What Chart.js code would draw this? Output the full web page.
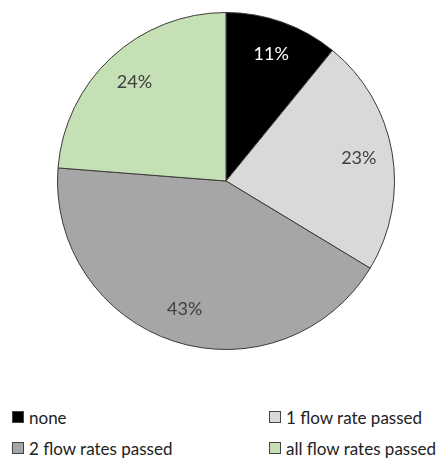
<!DOCTYPE html>
<html lang="en">
<head>
<meta charset="UTF-8">
<title>Flow rates pie</title>
<script src="https://cdn.jsdelivr.net/npm/chart.js"></script>
<style>
  body { margin: 0; background: #fff; width: 446px; height: 458px; position: relative; font-family: Lato, "Open Sans", sans-serif; overflow: hidden; }
  #wrap { position: absolute; left: 57px; top: 12px; width: 338px; height: 338px; }
  #legend { position: absolute; left: 12px; top: 407px; width: 434px; display: grid; grid-template-columns: 257px 177px; row-gap: 11px; font-size: 17px; color: #222; }
  #legend div { display: flex; align-items: center; height: 20px; white-space: nowrap; }
  #legend span.box { width: 10px; height: 10px; border: 1px solid #444; margin-right: 5px; display: inline-block; flex: none; }
</style>
</head>
<body>
<div id="wrap"><canvas id="pie"></canvas></div>
<div id="legend"></div>

<script>
// data
const categories = ['none', '1 flow rate passed', '2 flow rates passed', 'all flow rates passed'];
const shares = [11, 23, 43, 24];
const sliceColors = ['#000000', '#d9d9d9', '#a6a6a6', '#c5e0b4'];
const labelColors = ['#ffffff', '#404040', '#404040', '#404040'];

// percent labels inside each slice
const sliceLabels = {
  id: 'sliceLabels',
  afterDatasetsDraw(chart) {
    const ctx = chart.ctx;
    const meta = chart.getDatasetMeta(0);
    ctx.save();
    ctx.font = '18px Lato, "Open Sans", sans-serif';
    ctx.textAlign = 'center';
    ctx.textBaseline = 'middle';
    meta.data.forEach((arc, i) => {
      const mid = (arc.startAngle + arc.endAngle) / 2;
      const r = arc.outerRadius * 0.8;
      ctx.fillStyle = labelColors[i];
      ctx.fillText(shares[i] + '%', arc.x + Math.cos(mid) * r, arc.y + Math.sin(mid) * r);
    });
    ctx.restore();
  }
};

new Chart(document.getElementById('pie'), {
  type: 'pie',
  data: {
    labels: categories,
    datasets: [{
      data: shares,
      backgroundColor: sliceColors,
      borderColor: '#3a3a3a',
      borderWidth: 1
    }]
  },
  options: {
    responsive: true,
    maintainAspectRatio: false,
    animation: false,
    layout: { padding: 0 },
    plugins: {
      legend: { display: false },
      tooltip: { enabled: false }
    }
  },
  plugins: [sliceLabels]
});

// legend in two columns, same order as the slices
const legendEl = document.getElementById('legend');
categories.forEach((name, i) => {
  const item = document.createElement('div');
  item.innerHTML = '<span class="box" style="background:' + sliceColors[i] + '"></span>' + name;
  legendEl.appendChild(item);
});
</script>
</body>
</html>
